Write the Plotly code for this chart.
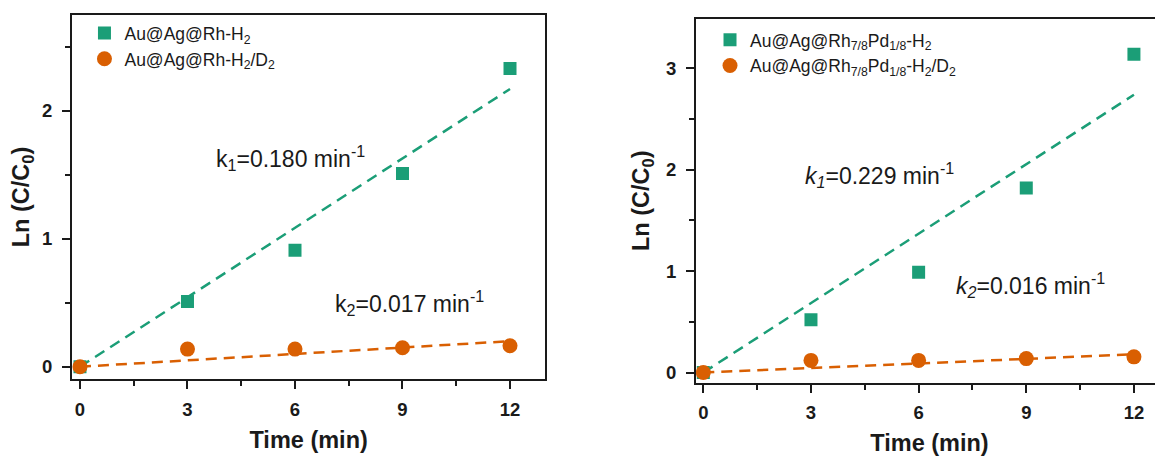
import plotly.graph_objects as go

# ---------------- data ----------------
time_min = [0, 3, 6, 9, 12]

# left panel: Au@Ag@Rh
left_h2 = [0.0, 0.51, 0.91, 1.51, 2.33]
left_h2d2 = [0.0, 0.138, 0.138, 0.149, 0.164]
left_fit_x = [0, 12]
left_fit_h2 = [0.0, 2.17]
left_fit_h2d2 = [0.0, 0.20]

# right panel: Au@Ag@Rh7/8Pd1/8
right_h2 = [0.0, 0.52, 0.99, 1.82, 3.14]
right_h2d2 = [0.0, 0.12, 0.12, 0.138, 0.155]
right_fit_x = [0, 12]
right_fit_h2 = [0.0, 2.74]
right_fit_h2d2 = [0.0, 0.18]

x_ticks = [0, 3, 6, 9, 12]
left_y_ticks = [0, 1, 2]
right_y_ticks = [0, 1, 2, 3]

names_left = ["Au@Ag@Rh-H<sub>2</sub>", "Au@Ag@Rh-H<sub>2</sub>/D<sub>2</sub>"]
names_right = ["Au@Ag@Rh<sub>7/8</sub>Pd<sub>1/8</sub>-H<sub>2</sub>",
               "Au@Ag@Rh<sub>7/8</sub>Pd<sub>1/8</sub>-H<sub>2</sub>/D<sub>2</sub>"]

GREEN = "#1b9e77"
ORANGE = "#d95f02"
FONT = "Liberation Sans, Arial, sans-serif"
INK = "#1a1a1a"

fig = go.Figure()

# fit lines (drawn first)
for fx, fy, col, xa, ya in [
    (left_fit_x, left_fit_h2, GREEN, "x", "y"),
    (left_fit_x, left_fit_h2d2, ORANGE, "x", "y"),
    (right_fit_x, right_fit_h2, GREEN, "x2", "y2"),
    (right_fit_x, right_fit_h2d2, ORANGE, "x2", "y2"),
]:
    fig.add_trace(go.Scatter(x=fx, y=fy, mode="lines", xaxis=xa, yaxis=ya,
                             line=dict(color=col, width=2.5, dash="11px,7px"),
                             showlegend=False, hoverinfo="skip"))

# markers
fig.add_trace(go.Scatter(x=time_min, y=left_h2, mode="markers", name=names_left[0],
                         marker=dict(symbol="square", size=13, color=GREEN),
                         xaxis="x", yaxis="y", legend="legend", legendgroup="a"))
fig.add_trace(go.Scatter(x=time_min, y=left_h2d2, mode="markers", name=names_left[1],
                         marker=dict(symbol="circle", size=15, color=ORANGE),
                         xaxis="x", yaxis="y", legend="legend", legendgroup="b"))
fig.add_trace(go.Scatter(x=time_min, y=right_h2, mode="markers", name=names_right[0],
                         marker=dict(symbol="square", size=13, color=GREEN),
                         xaxis="x2", yaxis="y2", legend="legend2", legendgroup="c"))
fig.add_trace(go.Scatter(x=time_min, y=right_h2d2, mode="markers", name=names_right[1],
                         marker=dict(symbol="circle", size=15, color=ORANGE),
                         xaxis="x2", yaxis="y2", legend="legend2", legendgroup="d"))

axis_common = dict(
    showgrid=False, zeroline=False, showline=True, linecolor=INK, linewidth=2,
    ticks="outside", ticklen=8, tickwidth=2, tickcolor=INK,
    tickfont=dict(family=FONT, size=18.5, color=INK, weight="bold"),
    title_font=dict(family=FONT, size=23.5, color=INK, weight="bold"),
)
xminor = dict(dtick=1.5, tick0=0, ticks="outside", ticklen=5, tickwidth=2, tickcolor=INK)
yminor = dict(dtick=0.5, tick0=0, ticks="outside", ticklen=5, tickwidth=2, tickcolor=INK)

# the page body adds an 8px margin, so the figure is 8px smaller than the window
fig.update_layout(
    width=1155, height=448,
    margin=dict(l=0, r=0, t=0, b=0),
    paper_bgcolor="white", plot_bgcolor="white",
    font=dict(family=FONT, color=INK),
    xaxis=dict(domain=[0.0554, 0.4652], range=[-0.223, 12.985], tickvals=x_ticks,
               mirror=True, anchor="y", minor=xminor, ticklabelstandoff=4,
               title=dict(text="Time (min)", standoff=13), **axis_common),
    yaxis=dict(domain=[0.1712, 0.9850], range=[-0.098, 2.75], tickvals=left_y_ticks,
               mirror=True, anchor="x", minor=yminor, ticklabelstandoff=6,
               title=dict(text="Ln (C/C<sub>0</sub>)", standoff=10), **axis_common),
    xaxis2=dict(domain=[0.5957, 1.0], range=[-0.203, 12.81], tickvals=x_ticks,
                mirror=True, anchor="y2", minor=xminor, ticklabelstandoff=4,
                title=dict(text="Time (min)", standoff=13), **axis_common),
    yaxis2=dict(domain=[0.1636, 0.9761], range=[-0.10, 3.49], tickvals=right_y_ticks,
                mirror=False, anchor="x2", minor=yminor, ticklabelstandoff=6,
                title=dict(text="Ln (C/C<sub>0</sub>)", standoff=10), **axis_common),
    legend=dict(x=0.0662, y=0.984, xanchor="left", yanchor="top", bgcolor="rgba(0,0,0,0)",
                font=dict(family=FONT, size=17.5, color=INK), tracegroupgap=0),
    legend2=dict(x=0.6078, y=0.969, xanchor="left", yanchor="top", bgcolor="rgba(0,0,0,0)",
                 font=dict(family=FONT, size=17.5, color=INK), tracegroupgap=0),
)

ann_font = dict(family=FONT, size=23, color=INK)
annotations = [
    dict(x=3.75, y=1.63, xref="x", yref="y", text="k<sub>1</sub>=0.180 min<sup>-1</sup>"),
    dict(x=7.05, y=0.50, xref="x", yref="y", text="k<sub>2</sub>=0.017 min<sup>-1</sup>"),
    dict(x=2.78, y=1.95, xref="x2", yref="y2", text="<i>k</i><sub><i>1</i></sub>=0.229 min<sup>-1</sup>"),
    dict(x=6.98, y=0.86, xref="x2", yref="y2", text="<i>k</i><sub><i>2</i></sub>=0.016 min<sup>-1</sup>"),
]
for a in annotations:
    fig.add_annotation(showarrow=False, xanchor="left", yanchor="middle", font=ann_font, **a)

fig.write_html("out.html")
